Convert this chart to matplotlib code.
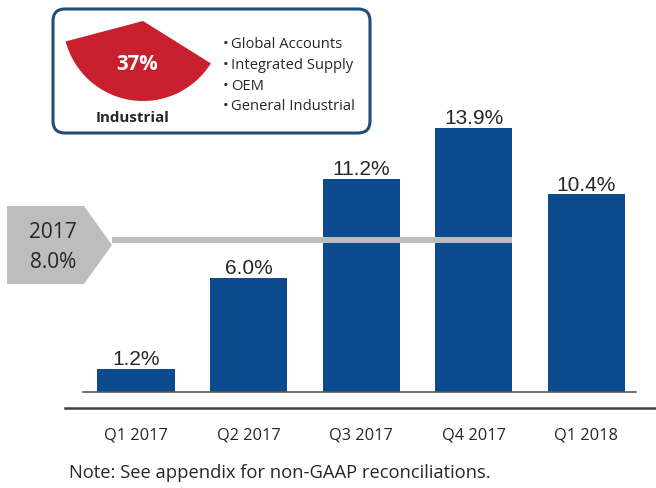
import matplotlib
matplotlib.use("Agg")
import matplotlib.pyplot as plt
from matplotlib.patches import Wedge, FancyBboxPatch, Polygon

# data
quarters = ["Q1 2017", "Q2 2017", "Q3 2017", "Q4 2017", "Q1 2018"]
margins = [1.2, 6.0, 11.2, 13.9, 10.4]
avg_label = "2017"
avg_value = 8.0
segment_share = 37
segment_name = "Industrial"
segment_items = ["Global Accounts", "Integrated Supply", "OEM", "General Industrial"]
note = "Note: See appendix for non-GAAP reconciliations."

BAR_COLOR = "#0b4a8c"
GREY = "#bdbdbd"
RED = "#c8202f"
BOX_EDGE = "#1f4e79"
TXT = "#262626"
SANS = ["Open Sans", "DejaVu Sans"]
ARIAL = ["Liberation Sans", "DejaVu Sans"]

W, H = 656, 489
fig = plt.figure(figsize=(W / 100, H / 100), dpi=100)

# bar axes (data coords), fills the whole figure
ax = fig.add_axes([0, 0, 1, 1])
px_per_bar = 112.6
px_per_pct = 19.0
x0_px, base_px = 136, 393
ax.set_xlim(-x0_px / px_per_bar, (W - x0_px) / px_per_bar)
ax.set_ylim(-(H - base_px) / px_per_pct, base_px / px_per_pct)
ax.axis("off")

xs = list(range(len(quarters)))
bw = 0.685
ax.bar(xs, margins, width=bw, color=BAR_COLOR, zorder=2)
for x, v in zip(xs, margins):
    ax.text(x, v + 0.25, f"{v:.1f}%", ha="center", va="baseline",
            fontsize=15, color=TXT, family=ARIAL, zorder=4)

# 2017 average line, from arrow tip to end of Q4 bar
tip_x = (112 - x0_px) / px_per_bar
ax.plot([tip_x, 3 + bw / 2], [avg_value, avg_value], color=GREY, lw=4.3,
        solid_capstyle="butt", zorder=3)

# overlay in pixel coords for decoration
ov = fig.add_axes([0, 0, 1, 1], facecolor="none")
ov.set_xlim(0, W)
ov.set_ylim(H, 0)
ov.axis("off")

# baselines
ov.plot([83, 636], [393, 393], color="#595959", lw=1.2)
ov.plot([65, W], [409, 409], color="#404040", lw=1.8)

for x, q in zip(xs, quarters):
    px = x0_px + x * px_per_bar
    ov.text(px, 435, q, ha="center", va="center", fontsize=11.8, color=TXT, family=SANS)

ov.text(69, 473, note, ha="left", va="center", fontsize=13.2, color=TXT, family=SANS)

# grey arrow tag
ov.add_patch(Polygon([(7, 207), (84, 207), (112, 246), (84, 285), (7, 285)],
                     closed=True, facecolor=GREY, edgecolor="none"))
ov.text(53, 232, avg_label, ha="center", va="center", fontsize=15, color=TXT, family=SANS)
ov.text(53, 262, f"{avg_value:.1f}%", ha="center", va="center", fontsize=15, color=TXT, family=SANS)

# segment box
ov.add_patch(FancyBboxPatch((53, 10), 317, 124, boxstyle="round,pad=0,rounding_size=12",
                            facecolor="white", edgecolor=BOX_EDGE, lw=2.2))
span = segment_share / 100 * 360
ov.add_patch(Wedge((143, 22), 80, 32, 32 + span, facecolor=RED, edgecolor="none"))
ov.text(137, 64, f"{segment_share}%", ha="center", va="center", fontsize=14.8,
        fontweight="bold", color="white", family=SANS)
ov.text(133, 118, segment_name, ha="center", va="center", fontsize=10.9,
        fontweight="bold", color=TXT, family=SANS)
for i, item in enumerate(segment_items):
    y = 45 + i * 20.5
    ov.text(223, y, "\u2022", ha="left", va="center", fontsize=11, color=TXT, family=SANS)
    ov.text(231, y, item, ha="left", va="center", fontsize=10.6, color=TXT, family=SANS)

fig.savefig("out.png", dpi=100)
